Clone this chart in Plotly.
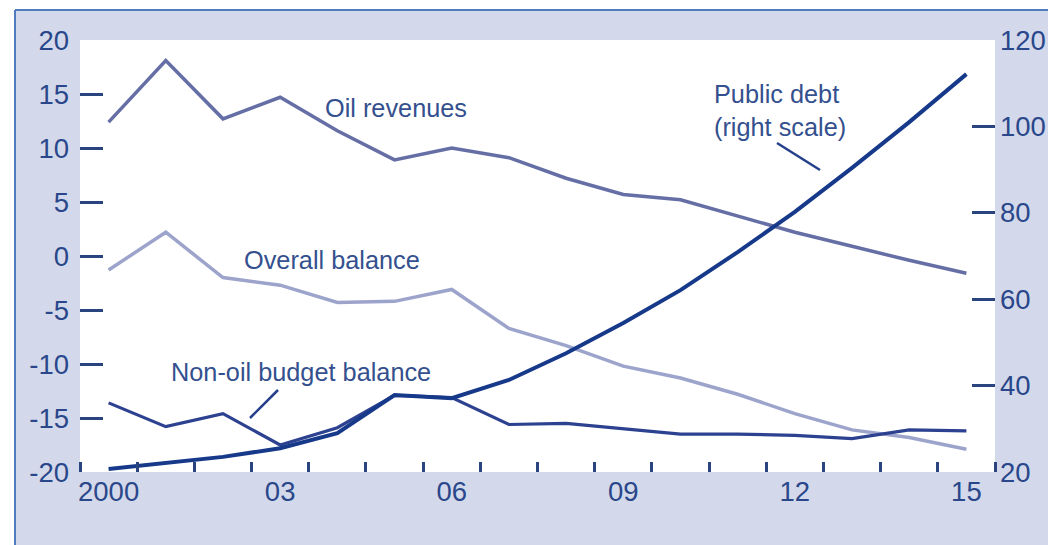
import plotly.graph_objects as go

# ---------------- data ----------------
years = list(range(2000, 2016))
oil_revenues = [12.4, 18.1, 12.7, 14.7, 11.6, 8.9, 10.0, 9.1, 7.2, 5.7, 5.2, 3.7, 2.2, 0.9, -0.4, -1.6]
overall_balance = [-1.3, 2.2, -2.0, -2.7, -4.3, -4.2, -3.1, -6.7, -8.3, -10.2, -11.3, -12.8, -14.6, -16.1, -16.8, -17.9]
non_oil_balance = [-13.6, -15.8, -14.6, -17.5, -15.9, -12.9, -13.1, -15.6, -15.5, -16.0, -16.5, -16.5, -16.6, -16.9, -16.1, -16.2]
public_debt = [20.7, 22.1, 23.5, 25.5, 29.0, 37.8, 37.1, 41.3, 47.5, 54.5, 62.1, 70.9, 80.2, 90.4, 101.0, 112.1]

x_tick_vals = [2000, 2003, 2006, 2009, 2012, 2015]
x_tick_text = ["2000", "03", "06", "09", "12", "15"]
left_tick_vals = [-20, -15, -10, -5, 0, 5, 10, 15, 20]
left_tick_text = ["-20", "-15", "-10", "-5", "0", "5", "10", "15", "20"]
right_tick_vals = [20, 40, 60, 80, 100, 120]
right_tick_text = ["20", "40", "60", "80", "100", "120"]

# ---------------- style ----------------
W, H = 1048, 545
ML, MR, MT, MB = 80, 53, 40, 73
PW, PH = W - ML - MR, H - MT - MB
BG = "#d3d9ea"
TXT = "#29478a"
TICK = "#2a4480"
TICKFONT = dict(family="Liberation Sans, Arial, sans-serif", size=27.5, color=TXT)
ANNFONT = dict(family="Liberation Sans, Arial, sans-serif", size=25.3, color="#34508e")


def px(xp):
    return (xp - ML) / PW


def py(yp):
    return (H - MB - yp) / PH


fig = go.Figure()
fig.add_trace(go.Scatter(x=years, y=overall_balance, mode="lines", name="Overall balance",
                         line=dict(color="#9da4cc", width=3.5)))
fig.add_trace(go.Scatter(x=years, y=oil_revenues, mode="lines", name="Oil revenues",
                         line=dict(color="#656fa6", width=3.5)))
fig.add_trace(go.Scatter(x=years, y=non_oil_balance, mode="lines", name="Non-oil budget balance",
                         line=dict(color="#2d4191", width=3.2)))
fig.add_trace(go.Scatter(x=years, y=public_debt, mode="lines", name="Public debt", yaxis="y2",
                         line=dict(color="#16398a", width=4)))
# helper traces so overlay axes (tick dashes) are rendered
fig.add_trace(go.Scatter(x=[], y=[], yaxis="y3", showlegend=False, hoverinfo="skip"))
fig.add_trace(go.Scatter(x=[], y=[], yaxis="y4", showlegend=False, hoverinfo="skip"))

common_y = dict(showgrid=False, zeroline=False, showline=False, fixedrange=True, automargin=False)

fig.update_layout(
    width=W, height=H,
    margin=dict(l=ML, r=MR, t=MT, b=MB, autoexpand=False),
    paper_bgcolor=BG, plot_bgcolor="white",
    showlegend=False,
    xaxis=dict(range=[1999.5, 2015.5], tickmode="array", tickvals=x_tick_vals, ticktext=x_tick_text,
               ticks="", tickfont=TICKFONT, showgrid=False, zeroline=False, showline=False,
               automargin=False,
               minor=dict(tickmode="array", tickvals=[y - 0.5 for y in years] + [2015.5],
                          ticks="inside", ticklen=10, tickwidth=3, tickcolor=TICK, showgrid=False)),
    yaxis=dict(range=[-20, 20], tickmode="array", tickvals=left_tick_vals, ticktext=left_tick_text,
               ticks="", tickfont=TICKFONT, ticklabelstandoff=10, **common_y),
    yaxis2=dict(range=[20, 120], overlaying="y", side="right", tickmode="array",
                tickvals=right_tick_vals, ticktext=right_tick_text, ticks="", tickfont=TICKFONT,
                ticklabelstandoff=4, **common_y),
    yaxis3=dict(range=[-20, 20], overlaying="y", side="left", tickmode="array",
                tickvals=left_tick_vals[1:], ticks="inside", ticklen=23, tickwidth=3,
                tickcolor=TICK, showticklabels=False, **common_y),
    yaxis4=dict(range=[20, 120], overlaying="y", side="right", tickmode="array",
                tickvals=right_tick_vals[1:], ticks="inside", ticklen=23, tickwidth=3,
                tickcolor=TICK, showticklabels=False, **common_y),
)

# frame: white outside, blue border line
shapes = [
    dict(type="rect", xref="paper", yref="paper", x0=px(-5), x1=px(W + 5), y0=py(10), y1=py(-5),
         fillcolor="white", line=dict(width=0), layer="above"),
    dict(type="rect", xref="paper", yref="paper", x0=px(-5), x1=px(15), y0=py(H + 5), y1=py(-5),
         fillcolor="white", line=dict(width=0), layer="above"),
    dict(type="line", xref="paper", yref="paper", x0=px(15), x1=px(W + 5), y0=py(10), y1=py(10),
         line=dict(color="#4f7cbd", width=2), layer="above"),
    dict(type="line", xref="paper", yref="paper", x0=px(15), x1=px(15), y0=py(10), y1=py(H + 5),
         line=dict(color="#4f7cbd", width=2), layer="above"),
    # callout lines
    dict(type="line", xref="paper", yref="paper", x0=px(777), y0=py(143), x1=px(820), y1=py(170),
         line=dict(color="#24408a", width=2.5)),
    dict(type="line", xref="paper", yref="paper", x0=px(278), y0=py(390), x1=px(250), y1=py(418),
         line=dict(color="#24408a", width=2.5)),
]
fig.update_layout(shapes=shapes)

annotations = [
    dict(text="Oil revenues", x=px(396), y=py(108), xanchor="center", yanchor="middle"),
    dict(text="Overall balance", x=px(332), y=py(260), xanchor="center", yanchor="middle"),
    dict(text="Non-oil budget balance", x=px(169), y=py(372), xanchor="left", yanchor="middle"),
    dict(text="Public debt<br>(right scale)", x=px(712), y=py(110), xanchor="left", yanchor="middle",
         align="left"),
]
for a in annotations:
    a.update(xref="paper", yref="paper", showarrow=False, font=ANNFONT)
fig.update_layout(annotations=annotations)

fig.write_html("out.html")
